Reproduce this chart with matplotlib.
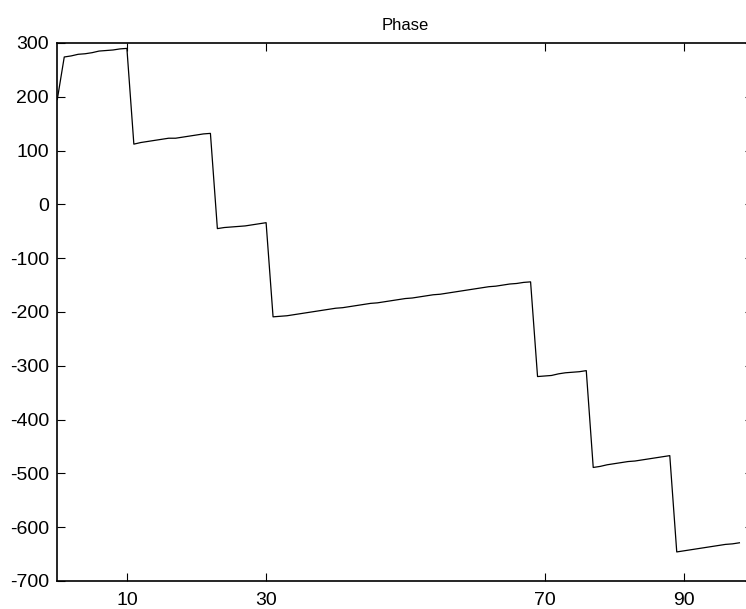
import matplotlib
matplotlib.use('Agg')
import matplotlib.pyplot as plt

# Unwrapped phase per sample index
seg_x = list(range(0, 99))
phase = [
    195,
    274, 276, 279, 280, 282, 285, 286, 287, 289, 290,
    112, 115, 117, 119, 121, 123, 123, 125, 127, 129, 131, 132,
    -45, -43, -42, -41, -40, -38, -36, -34,
    -209, -208, -207, -205, -203, -201, -199, -197, -195, -193,
    -192, -190, -188, -186, -184, -183, -181, -179, -177, -175,
    -174, -172, -170, -168, -167, -165, -163, -161, -159, -157,
    -155, -153, -152, -150, -148, -147, -145, -144,
    -320, -319, -318, -315, -313, -312, -311, -309,
    -489, -487, -484, -482, -480, -478, -477, -475, -473, -471, -469, -467,
    -646, -644, -642, -640, -638, -636, -634, -632, -631, -629,
]
x_ticks = [10, 30, 70, 90]
y_ticks = [300, 200, 100, 0, -100, -200, -300, -400, -500, -600, -700]


def plot_phase(x, y):
    """Plot the phase curve in a boxed axes."""
    plt.rcParams['font.family'] = ['Liberation Sans', 'DejaVu Sans']
    plt.rcParams['axes.unicode_minus'] = False
    fig = plt.figure(figsize=(7.46, 6.09), dpi=100)
    ax = fig.add_axes([0.0768, 0.046, 0.933, 0.8834])
    ax.plot(x, y, color='black', linewidth=0.9)
    ax.set_xlim(0, 100)
    ax.set_ylim(-700, 300)
    ax.set_xticks(x_ticks)
    ax.set_yticks(y_ticks)
    ax.tick_params(direction='in', length=5.5, width=0.8, labelsize=14,
                   top=True, right=True)
    ax.tick_params(axis='x', pad=8)
    ax.tick_params(axis='y', pad=6)
    for spine in ax.spines.values():
        spine.set_linewidth(1.2)
    ax.set_title('Phase', fontsize=12, pad=9)
    fig.savefig('out.png', dpi=100)


def main():
    plot_phase(seg_x, phase)


if __name__ == '__main__':
    main()
